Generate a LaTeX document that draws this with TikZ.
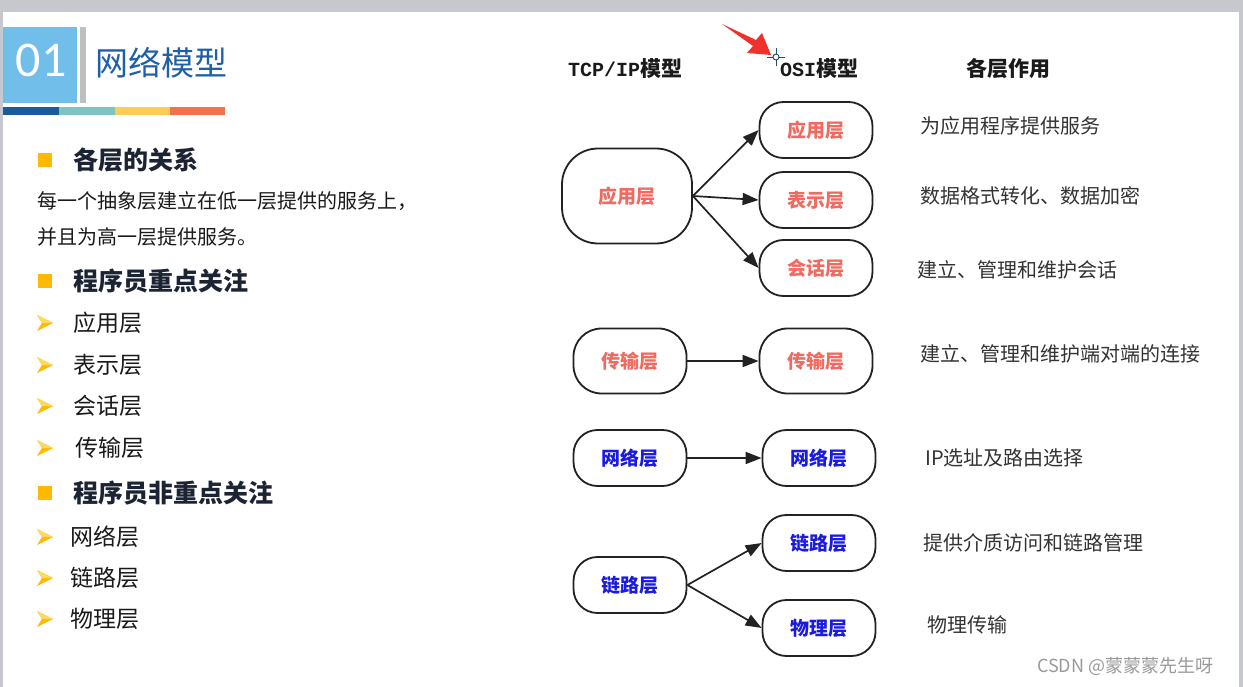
\documentclass[tikz,border=0pt]{standalone}
\usepackage{fontspec}
\setmainfont{Noto Sans CJK SC}
\newfontfamily\monof{Liberation Mono}
\newfontfamily\numf{Carlito}
\usetikzlibrary{arrows.meta}
\definecolor{frameg}{HTML}{C6C8CE}
\definecolor{hdrblue}{HTML}{72BEEA}
\definecolor{titleblue}{HTML}{1E5FA8}
\definecolor{bar1}{HTML}{1B5A9B}
\definecolor{bar2}{HTML}{7FC4C2}
\definecolor{bar3}{HTML}{FFCC55}
\definecolor{bar4}{HTML}{F1724F}
\definecolor{bulletc}{HTML}{FFB900}
\definecolor{bulletl}{HTML}{FFD860}
\definecolor{headc}{HTML}{1C2333}
\definecolor{bodyc}{HTML}{1A1A1A}
\definecolor{redt}{HTML}{F06A60}
\definecolor{bluet}{HTML}{1A1AE0}
\definecolor{descc}{HTML}{333333}
\definecolor{boxc}{HTML}{222222}
\definecolor{wmark}{HTML}{9A9A9A}
\definecolor{curs}{HTML}{1F4F60}
\definecolor{redcur}{HTML}{F0302A}
\begin{document}
\begin{tikzpicture}[x=1pt,y=-1pt,
  box/.style={draw=boxc, line width=1.8pt, rounded corners=24pt, minimum width=113pt, minimum height=56pt, inner sep=0pt, font=\fontsize{19}{19}\selectfont\bfseries},
  redbox/.style={box, text=redt},
  bluebox/.style={box, text=bluet},
  conn/.style={draw=boxc, line width=1.7pt, -{Triangle[length=16pt,width=12pt]}},
  desc/.style={anchor=west, inner sep=0pt, text=descc, font=\fontsize{20}{20}\selectfont},
  colhead/.style={anchor=west, inner sep=0pt, text=bodyc, font=\fontsize{21}{21}\selectfont\bfseries},
  lhead/.style={anchor=west, inner sep=0pt, text=headc, font=\fontsize{25}{25}\selectfont\bfseries},
  lbody/.style={anchor=west, inner sep=0pt, text=bodyc, font=\fontsize{20}{20}\selectfont},
  litem/.style={anchor=west, inner sep=0pt, text=bodyc, font=\fontsize{23}{23}\selectfont},
]
% frame and background
\fill[frameg] (0,0) rectangle (1243,687);
\fill[white] (3,12) rectangle (1239,687);
\useasboundingbox (0,0) rectangle (1243,687);

% header
\fill[hdrblue] (3,27) rectangle (77,103);
\fill[black!25] (80,27) rectangle (86,103);
\node[text=white, font=\numf\fontsize{50}{50}\selectfont, inner sep=0pt] (num) at (41,60) {01};
\node[anchor=west, inner sep=0pt, text=titleblue, font=\fontsize{33}{33}\selectfont] (title) at (95,63) {网络模型};
\fill[bar1] (3,107) rectangle (59,115);
\fill[bar2] (59,107) rectangle (115,115);
\fill[bar3] (115,107) rectangle (170,115);
\fill[bar4] (170,107) rectangle (225,115);

% left text
\fill[bulletc] (38,153) rectangle (52,167);
\node[lhead] (h1) at (73,160) {各层的关系};
\node[lbody] (b1) at (37,201) {每一个抽象层建立在低一层提供的服务上，};
\node[lbody] (b2) at (37,237) {并且为高一层提供服务。};

\fill[bulletc] (38,274) rectangle (52,288);
\node[lhead] (h2) at (73,281) {程序员重点关注};
\foreach \yy/\tx/\xx in {323/应用层/73, 365/表示层/73, 406/会话层/73, 448/传输层/75, 537/网络层/70, 578/链路层/70, 619/物理层/70}{
  \fill[bulletc] (37,\yy-8) -- (53,\yy) -- (37,\yy+8) -- (42,\yy) -- cycle;
  \fill[bulletl] (37,\yy-8) -- (53,\yy) -- (42,\yy) -- cycle;
  \node[litem] at (\xx,\yy) {\tx};
}
\fill[bulletc] (38,486) rectangle (52,500);
\node[lhead] (h3) at (73,493) {程序员非重点关注};

% column headers
\node[colhead] (hTCP) at (568,69) {{\monof\fontsize{20}{20}\selectfont\bfseries TCP/IP}模型};
\node[colhead] (hOSI) at (780,69) {{\monof\fontsize{20}{20}\selectfont\bfseries OSI}模型};
\node[colhead] (hFun) at (966,69) {各层作用};

% cursor artefacts
\fill[redcur] (722,24) -- (756,40) -- (762,33) -- (771,55) -- (747,53) -- (753,46) -- cycle;
\draw[curs, line width=0.9pt] (767,57) -- (785,57) (776,48) -- (776,66);
\draw[curs, line width=0.9pt, fill=white] (776,57) circle (3);

% TCP/IP column
\node[redbox, minimum width=130pt, minimum height=95pt, rounded corners=36pt] (tApp) at (627,196) {应用层};
\node[redbox, minimum height=65pt, rounded corners=28pt] (tTrans) at (630,361) {传输层};
\node[bluebox] (tNet) at (630,458) {网络层};
\node[bluebox] (tLink) at (630,585) {链路层};

% OSI column
\node[redbox] (oApp) at (816,130) {应用层};
\node[redbox] (oPres) at (816,200) {表示层};
\node[redbox] (oSess) at (816,268) {会话层};
\node[redbox, minimum height=65pt, rounded corners=28pt] (oTrans) at (816,361) {传输层};
\node[bluebox] (oNet) at (819,458) {网络层};
\node[bluebox] (oLink) at (819,543) {链路层};
\node[bluebox] (oPhy) at (819,628) {物理层};

% connectors
\draw[conn] (tApp.east) -- (oApp.west);
\draw[conn] (tApp.east) -- (oPres.west);
\draw[conn] (tApp.east) -- (oSess.west);
\draw[conn] (tTrans.east) -- (oTrans.west);
\draw[conn] (tNet.east) -- (oNet.west);
\draw[conn] (tLink.east) -- (oLink.west);
\draw[conn] (tLink.east) -- (oPhy.west);

% descriptions
\node[desc] (d1) at (920,126) {为应用程序提供服务};
\node[desc] (d2) at (920,196) {数据格式转化、数据加密};
\node[desc] (d3) at (917,270) {建立、管理和维护会话};
\node[desc] (d4) at (920,354) {建立、管理和维护端对端的连接};
\node[desc] (d5) at (925,458) {IP选址及路由选择};
\node[desc] (d6) at (923,543) {提供介质访问和链路管理};
\node[desc] (d7) at (927,625) {物理传输};

% watermark
\node[anchor=west, inner sep=0pt, text=wmark, font=\fontsize{18}{18}\selectfont] (wm) at (1037,666) {CSDN @蒙蒙蒙先生呀};
\end{tikzpicture}
\end{document}
